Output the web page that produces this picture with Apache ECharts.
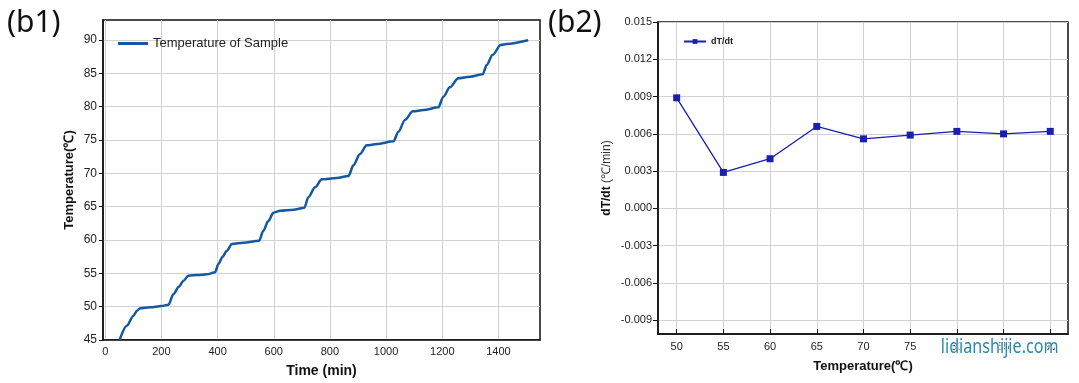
<!DOCTYPE html>
<html>
<head>
<meta charset="utf-8">
<script src="https://cdn.jsdelivr.net/npm/echarts@6/dist/echarts.min.js"></script>
<style>
  html, body { margin: 0; padding: 0; background: #fff; }
  #main { width: 1079px; height: 383px; }
</style>
</head>
<body>
<div id="main"></div>
<script>
// (b1) temperature of sample vs time
var timeMin = [51, 77, 100, 113, 124, 160, 200, 225, 243, 262, 279, 296, 330, 362, 391,
  403, 418, 433, 451, 492, 548, 563, 580, 599, 623, 670, 709, 723, 747, 771, 824, 866,
  884, 907, 931, 967, 1026, 1044, 1067, 1095, 1133, 1186, 1204, 1227, 1257, 1299, 1344,
  1358, 1379, 1408, 1429, 1506];
var sampleTemp = [45, 47.15, 48.6, 49.4, 49.75, 49.9, 50.1, 50.3, 51.9, 53.0, 53.9, 54.65, 54.75, 54.85, 55.15,
  56.4, 57.5, 58.4, 59.4, 59.6, 59.9, 61.4, 62.8, 64.1, 64.4, 64.55, 64.85, 66.4, 67.9, 69.1, 69.3, 69.6,
  71.25, 72.9, 74.2, 74.4, 74.8, 76.25, 78.0, 79.3, 79.5, 79.9, 81.5, 82.9, 84.25, 84.5, 84.85,
  86.25, 87.75, 89.25, 89.4, 89.95];
var timeTicks = [0, 200, 400, 600, 800, 1000, 1200, 1400];
var tempTicks = [45, 50, 55, 60, 65, 70, 75, 80, 85, 90];

// (b2) dT/dt vs temperature
var setTemp = [50, 55, 60, 65, 70, 75, 80, 85, 90];
var dTdt = [0.0089, 0.0029, 0.0040, 0.0066, 0.0056, 0.0059, 0.0062, 0.0060, 0.0062];
var rateTicks = [-0.009, -0.006, -0.003, 0, 0.003, 0.006, 0.009, 0.012, 0.015];

var font = 'Liberation Sans, Arial, sans-serif';
var chart = echarts.init(document.getElementById('main'));

var gridLine = { show: true, lineStyle: { color: '#d2d2d2', width: 1 } };
var labelStyle = { color: '#222', fontSize: 12, fontFamily: font };
var axisLine = { onZero: false, lineStyle: { color: '#111', width: 1.5 } };

chart.setOption({
  animation: false,
  graphic: [
    { type: 'text', left: 7, top: 8, style: { text: '(b1)', fontSize: 30, fontFamily: 'Noto Sans, sans-serif', fill: '#111' } },
    { type: 'text', left: 548, top: 8, style: { text: '(b2)', fontSize: 30, fontFamily: 'Noto Sans, sans-serif', fill: '#111' } },
    {
      type: 'text', left: 940, top: 337, z: 100, scaleX: 0.85,
      style: { text: 'lidianshijie.com', fontSize: 19, fontFamily: 'Noto Sans, sans-serif', fill: '#2a8ab0', stroke: '#fff', lineWidth: 2 }
    }
  ],
  legend: [
    {
      data: [{ name: 'Temperature of Sample', icon: 'rect' }], left: 118, top: 37, padding: 0, itemWidth: 30, itemHeight: 3,
      textStyle: { fontSize: 13, fontFamily: font, color: '#222' }
    },
    {
      data: ['dT/dt'], left: 683, top: 37, padding: 0, itemWidth: 22, itemHeight: 6,
      textStyle: { fontSize: 9, fontWeight: 'bold', fontFamily: font, color: '#222' }
    }
  ],
  grid: [
    { left: 103, right: 539, top: 20, bottom: 42, show: true, borderColor: '#111', borderWidth: 1.5, backgroundColor: 'transparent' },
    { left: 658, right: 11, top: 22, bottom: 49, show: true, borderColor: '#111', borderWidth: 1.5, backgroundColor: 'transparent' }
  ],
  xAxis: [
    {
      gridIndex: 0, type: 'value', min: -8, max: 1548,
      name: 'Time (min)', nameLocation: 'middle', nameGap: 24,
      nameTextStyle: { fontSize: 14, fontWeight: 'bold', fontFamily: font, color: '#111' },
      axisLine: axisLine,
      axisTick: { show: false, customValues: timeTicks },
      axisLabel: Object.assign({ margin: 6, customValues: timeTicks, formatter: function (v) { return String(v); } }, labelStyle, { fontSize: 11 }),
      splitLine: gridLine
    },
    {
      gridIndex: 1, type: 'value', min: 48, max: 91.9,
      name: 'Temperature(\u2103)', nameLocation: 'middle', nameGap: 26,
      nameTextStyle: { fontSize: 13, fontWeight: 'bold', fontFamily: font, color: '#111' },
      axisLine: axisLine,
      axisTick: { show: true, inside: true, length: 5, customValues: setTemp, lineStyle: { color: '#111' } },
      axisLabel: Object.assign({ margin: 7, customValues: setTemp }, labelStyle, { fontSize: 11 }),
      splitLine: gridLine
    }
  ],
  yAxis: [
    {
      gridIndex: 0, type: 'value', min: 45, max: 93,
      name: 'Temperature(\u2103)', nameLocation: 'middle', nameGap: 27,
      nameTextStyle: { fontSize: 13, fontWeight: 'bold', fontFamily: font, color: '#111' },
      axisLine: axisLine,
      axisTick: { show: true, length: 4, customValues: tempTicks, lineStyle: { color: '#111' } },
      axisLabel: Object.assign({ margin: 6, customValues: tempTicks }, labelStyle),
      splitLine: gridLine
    },
    {
      gridIndex: 1, type: 'value', min: -0.0101, max: 0.015,
      name: '{b|dT/dt} {n|(\u2103/min)}', nameLocation: 'middle', nameGap: 45,
      nameTextStyle: {
        fontFamily: font, color: '#111',
        rich: {
          b: { fontSize: 12, fontWeight: 'bold', fontFamily: font, color: '#111' },
          n: { fontSize: 12, fontFamily: font, color: '#333' }
        }
      },
      axisLine: axisLine,
      axisTick: { show: true, length: 5, customValues: rateTicks, lineStyle: { color: '#111' } },
      axisLabel: Object.assign({ margin: 6, customValues: rateTicks, formatter: function (v) { return v.toFixed(3); } }, labelStyle, { fontSize: 11 }),
      splitLine: gridLine
    }
  ],
  series: [
    {
      name: 'Temperature of Sample', type: 'line', xAxisIndex: 0, yAxisIndex: 0,
      data: timeMin.map(function (t, i) { return [t, sampleTemp[i]]; }),
      showSymbol: false, symbol: 'none', smooth: 0.3, smoothMonotone: 'x',
      lineStyle: { color: '#14589f', width: 2.5 }, itemStyle: { color: '#14589f' }
    },
    {
      name: 'dT/dt', type: 'line', xAxisIndex: 1, yAxisIndex: 1,
      data: setTemp.map(function (t, i) { return [t, dTdt[i]]; }),
      symbol: 'rect', symbolSize: 7,
      lineStyle: { color: '#1a1fb0', width: 1.3 }, itemStyle: { color: '#1a1fb0' }
    }
  ]
});
</script>
</body>
</html>
